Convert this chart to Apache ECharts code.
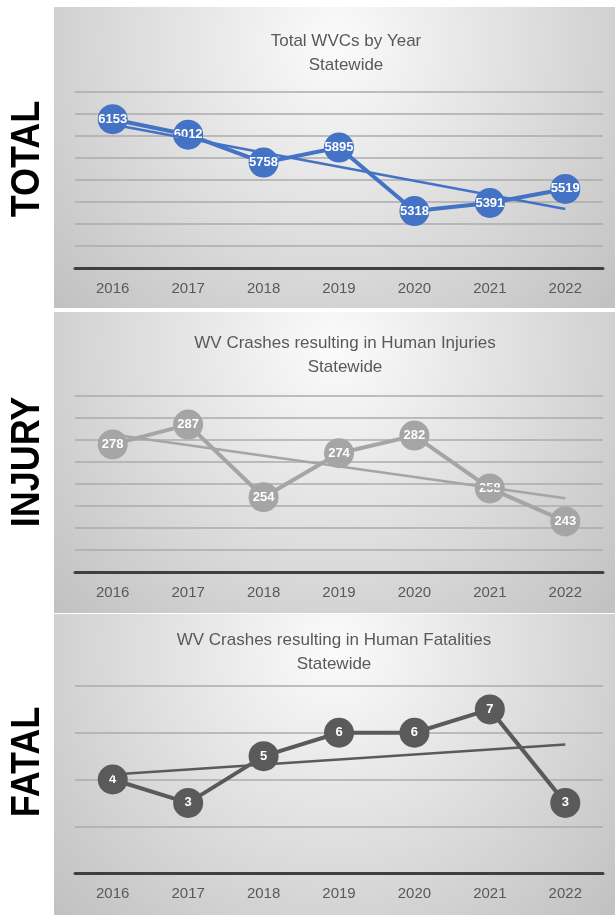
<!DOCTYPE html>
<html>
<head>
<meta charset="utf-8">
<script src="https://cdn.jsdelivr.net/npm/echarts@6/dist/echarts.min.js"></script>
<style>
html,body{margin:0;padding:0;background:#fff;}
#c{width:615px;height:915px;}
</style>
</head>
<body>
<div id="c"></div>
<script>
// ---- data ----
var years = ['2016','2017','2018','2019','2020','2021','2022'];
var totalWVC = [6153, 6012, 5758, 5895, 5318, 5391, 5519];
var injuryWVC = [278, 287, 254, 274, 282, 258, 243];
var fatalWVC = [4, 3, 5, 6, 6, 7, 3];
// linear trendline end points (2016, 2022)
var trendTotal = [6105, 5337];
var trendInjury = [282.5, 253.5];
var trendFatal = [4.21, 5.5];
var sideLabels = ['TOTAL', 'INJURY', 'FATAL'];
var titles = [
  'Total WVCs by Year\nStatewide',
  'WV Crashes resulting in Human Injuries\nStatewide',
  'WV Crashes resulting in Human Fatalities\nStatewide'
];
var yTicksTotal = {min: 4800, max: 6400, interval: 200};
var yTicksInjury = {min: 220, max: 300, interval: 10};
var yTicksFatal = {min: 0, max: 8, interval: 2};

// ---- layout / style ----
var FONT = 'Liberation Sans';
var panels = [
  {y: 7, h: 301, gridTop: 92, gridH: 176, titleTop: 24, titleX: 341, sideY: 159, color: '#4472C4', ticks: yTicksTotal, data: totalWVC, trend: trendTotal},
  {y: 312, h: 301, gridTop: 396, gridH: 176, titleTop: 326, titleX: 340, sideY: 462, color: '#A5A5A5', ticks: yTicksInjury, data: injuryWVC, trend: trendInjury},
  {y: 614, h: 301, gridTop: 686, gridH: 187, titleTop: 623, titleX: 329, sideY: 762, color: '#5A5A5A', ticks: yTicksFatal, data: fatalWVC, trend: trendFatal}
];

var grid = [], xAxis = [], yAxis = [], series = [], title = [], graphic = [];
panels.forEach(function (p, i) {
  graphic.push({
    type: 'rect', z: -10, silent: true,
    shape: {x: 54, y: p.y, width: 561, height: p.h},
    style: {fill: {type: 'radial', x: 0.5, y: 0.12, r: 1.25,
      colorStops: [{offset: 0, color: '#fbfbfb'}, {offset: 0.45, color: '#e2e2e2'}, {offset: 1, color: '#c2c2c2'}]}}
  });
  graphic.push({
    type: 'text', z: 10, silent: true,
    x: 28, y: p.sideY, rotation: Math.PI / 2, scaleY: 1.12,
    style: {text: sideLabels[i], fill: '#000', font: 'bold 36px "' + FONT + '"', align: 'center', verticalAlign: 'middle'}
  });
  title.push({
    text: titles[i], left: p.titleX, top: p.titleTop, textAlign: 'center',
    textStyle: {fontFamily: FONT, fontSize: 17, fontWeight: 'normal', color: '#595959', lineHeight: 24}
  });
  grid.push({left: 75, width: 528, top: p.gridTop, height: p.gridH});
  xAxis.push({
    type: 'category', gridIndex: i, data: years, boundaryGap: true, z: 2,
    axisLine: {lineStyle: {color: '#3f3f3f', width: 3}},
    axisTick: {show: false},
    axisLabel: {color: '#595959', fontSize: 15, fontFamily: FONT, margin: 13},
    splitLine: {show: false}
  });
  yAxis.push({
    type: 'value', gridIndex: i, min: p.ticks.min, max: p.ticks.max, interval: p.ticks.interval,
    axisLine: {show: false}, axisTick: {show: false}, axisLabel: {show: false},
    splitLine: {lineStyle: {color: '#ababab', width: 1.5}}
  });
  series.push({
    type: 'line', xAxisIndex: i, yAxisIndex: i, data: p.data, z: 2,
    symbol: 'circle', symbolSize: 30,
    lineStyle: {color: p.color, width: 4},
    itemStyle: {color: p.color},
    label: {show: true, position: 'inside', color: '#fff', fontWeight: 'bold', fontSize: 13, fontFamily: FONT},
    animation: false
  });
  series.push({
    type: 'line', xAxisIndex: i, yAxisIndex: i, z: 5,
    data: [[years[0], p.trend[0]], [years[years.length - 1], p.trend[1]]],
    symbol: 'none', lineStyle: {color: p.color, width: 2.5},
    animation: false, silent: true
  });
});

var chart = echarts.init(document.getElementById('c'), null, {renderer: 'canvas'});
chart.setOption({
  animation: false,
  backgroundColor: '#ffffff',
  title: title, grid: grid, xAxis: xAxis, yAxis: yAxis, series: series, graphic: graphic
});
</script>
</body>
</html>
